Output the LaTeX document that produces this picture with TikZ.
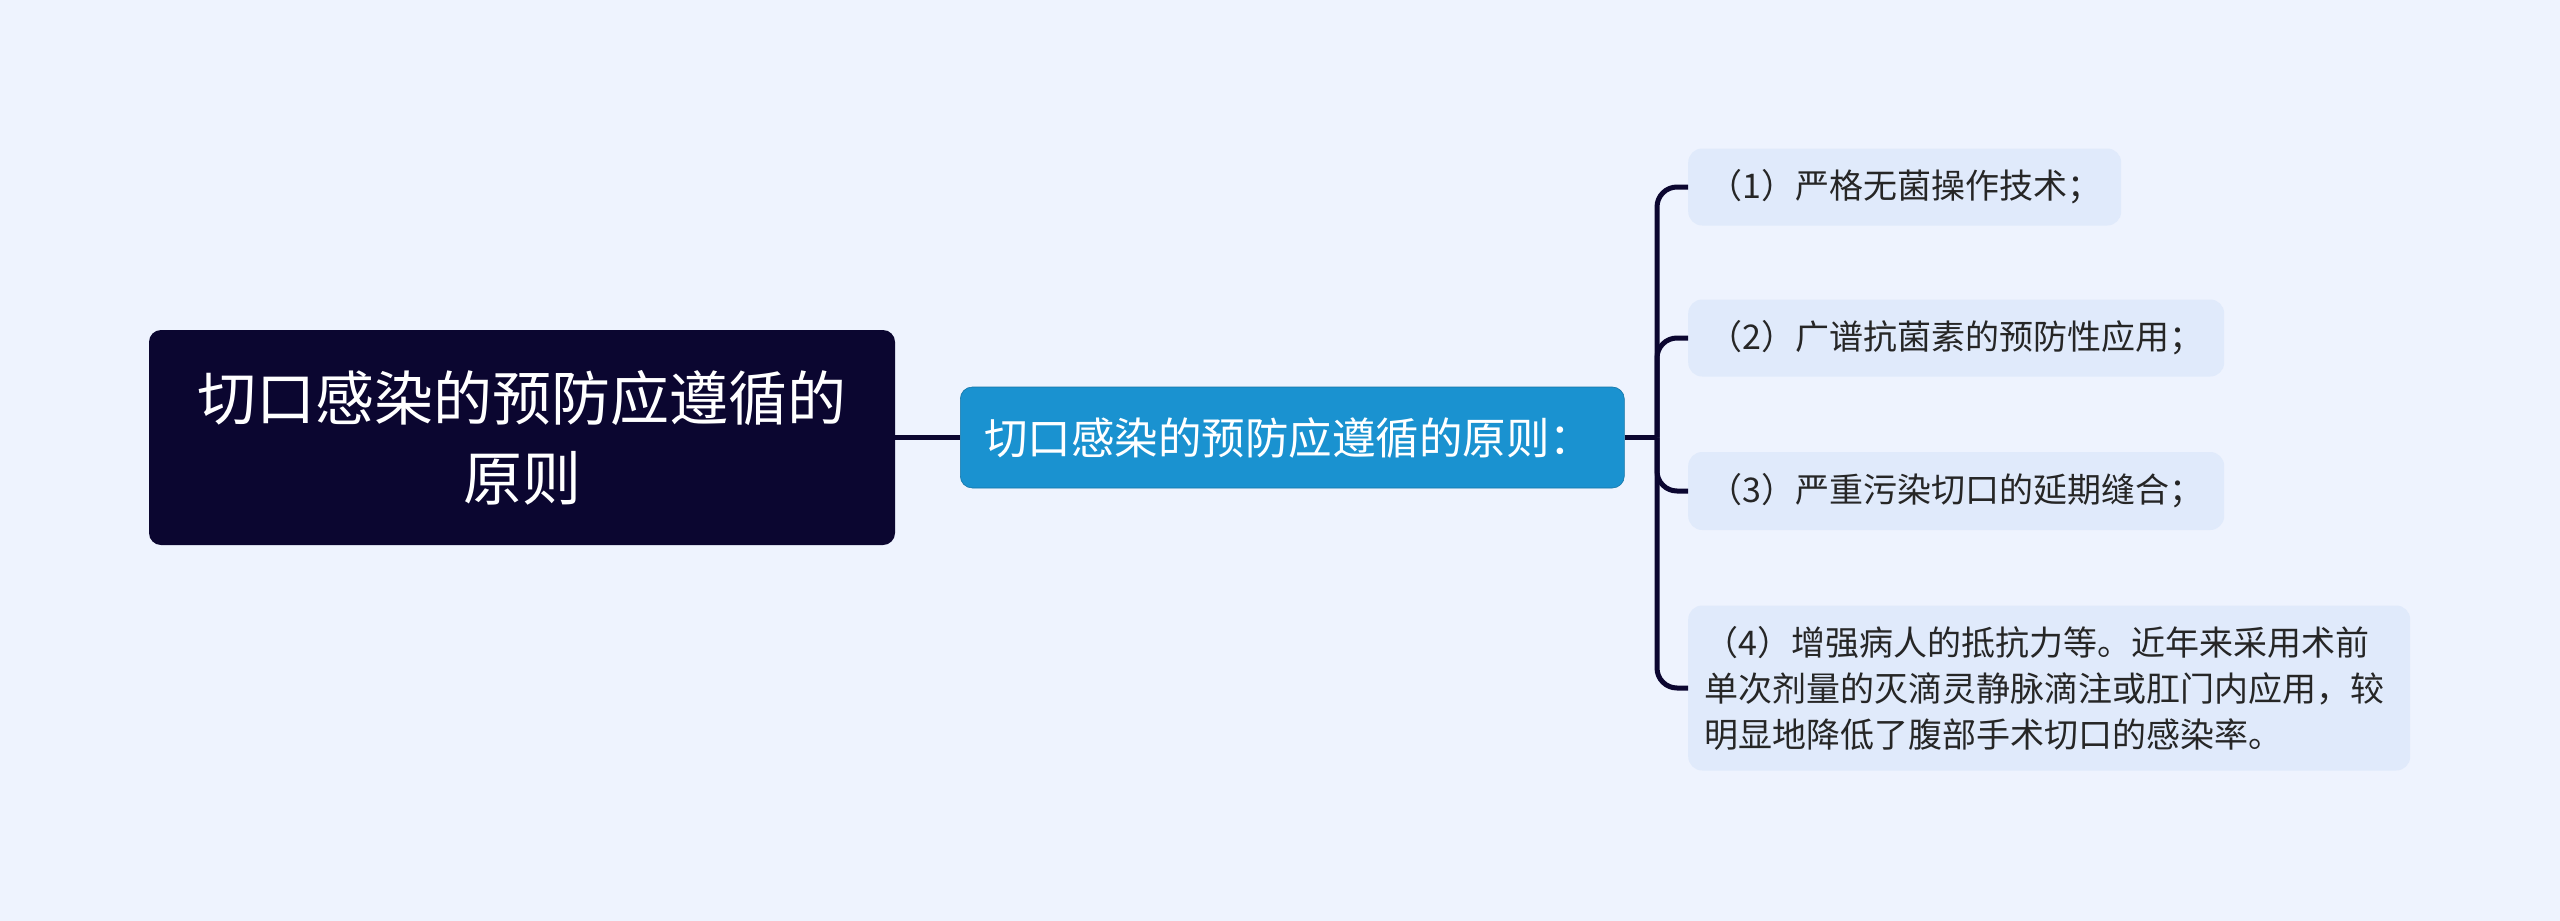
\documentclass[tikz,border=0pt]{standalone}
\usepackage{fontspec}
\setmainfont{Noto Sans CJK SC}
\definecolor{bg}{HTML}{EEF3FE}
\definecolor{rootc}{HTML}{0B0630}
\definecolor{midc}{HTML}{1A92D0}
\definecolor{leafc}{HTML}{E0EAFB}
\definecolor{leaftext}{HTML}{262626}
\definecolor{linec}{HTML}{0B0630}
\tikzset{
  rootbox/.style={fill=rootc, rounded corners=12pt, text=white, align=center,
    minimum width=746pt, minimum height=215pt, inner sep=0pt,
    font=\fontsize{59}{80}\selectfont},
  midbox/.style={fill=midc, draw=midc!80!black, line width=0.6pt, rounded corners=12pt, text=white, align=left,
    anchor=west, text width=616pt, inner xsep=24pt, minimum height=101pt,
    font=\fontsize{43.5}{52}\selectfont},
  leafbox/.style={fill=leafc, rounded corners=14pt, text=leaftext, align=left,
    anchor=west, inner xsep=20pt, font=\fontsize{34}{46}\selectfont},
  conn/.style={draw=linec, line width=5pt},
}
\begin{document}
\begin{tikzpicture}[x=1pt,y=-1pt]
\fill[bg] (0,0) rectangle (2560,921);
\useasboundingbox (0,0) rectangle (2560,921);
\node[rootbox] (root) at (522,437.5) {切口感染的预防应遵循的\\原则};
\node[midbox] (mid) at (960,437.5) {切口感染的预防应遵循的原则：};
\coordinate (trunk) at (1657,437.5);
\node[leafbox, text width=393pt, minimum height=77pt] (l1) at (1688,187) {（1）严格无菌操作技术；};
\node[leafbox, text width=496pt, minimum height=77pt] (l2) at (1688,338) {（2）广谱抗菌素的预防性应用；};
\node[leafbox, text width=496pt, minimum height=78pt] (l3) at (1688,491) {（3）严重污染切口的延期缝合；};
\node[leafbox, text width=690pt, inner xsep=16pt, minimum height=165pt] (l4) at (1688,688) {（4）增强病人的抵抗力等。近年来采用术前\\单次剂量的灭滴灵静脉滴注或肛门内应用，较\\明显地降低了腹部手术切口的感染率。};
\draw[conn] (root.east) -- (mid.west);
\draw[conn] (mid.east) -- (trunk);
\foreach \l in {l1,l2,l3,l4}{
  \draw[conn, rounded corners=20pt] (trunk) |- (\l.west);
}
\end{tikzpicture}
\end{document}
